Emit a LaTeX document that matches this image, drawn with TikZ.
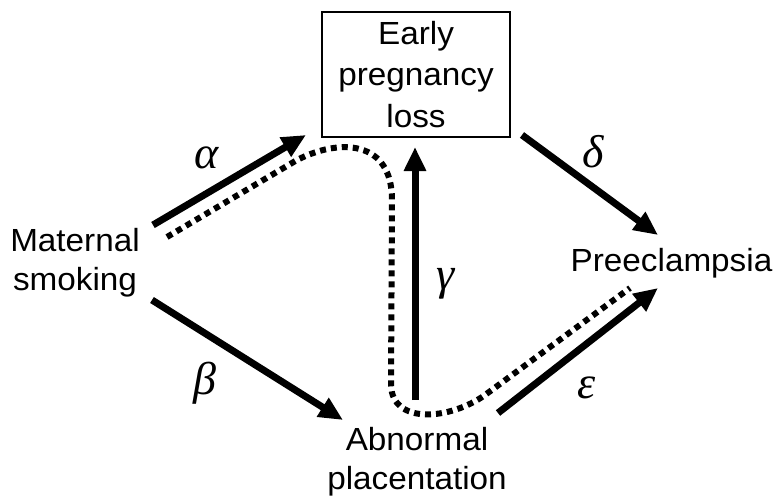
\documentclass[tikz,border=0pt]{standalone}
\usepackage{fontspec}
\setmainfont{Liberation Sans}[FakeStretch=1.04]
\newfontfamily\grk{Liberation Serif}
\usetikzlibrary{arrows.meta}
\tikzset{
  lbl/.style={align=center, inner sep=0pt, font=\fontsize{32}{39}\selectfont},
  boxnode/.style={draw, line width=1.5pt, inner sep=0pt, minimum width=188pt, minimum height=125pt, align=center, font=\fontsize{32}{41.5}\selectfont},
  greek/.style={inner sep=0pt, font=\fontsize{46}{50}\selectfont\grk\itshape},
  thick arrow/.style={line width=7pt, -{Triangle[length=24pt,width=21pt]}},
  dotpath/.style={line width=6pt, dash pattern=on 6pt off 5pt}
}
\begin{document}
\begin{tikzpicture}[x=1pt,y=-1pt]
\useasboundingbox (0,0) rectangle (781,498);
% nodes
\node[boxnode] (epl) at (416,74.5) {Early\\pregnancy\\loss};
\node[lbl] (ms) at (75,263) {Maternal\\smoking};
\node[lbl, anchor=base] (pe) at (671.5,271) {Preeclampsia};
\node[lbl] (ap) at (417,461.5) {Abnormal\\placentation};
% arrow end points
\coordinate (a0) at (153,225); \coordinate (a1) at (306,135);
\coordinate (b0) at (152,300); \coordinate (b1) at (343,420);
\coordinate (g0) at (415,400); \coordinate (g1) at (415,147);
\coordinate (d0) at (522,135); \coordinate (d1) at (658,235);
\coordinate (e0) at (498,413); \coordinate (e1) at (658,288);
\draw[thick arrow] (a0) -- (a1);
\draw[thick arrow] (b0) -- (b1);
\draw[thick arrow] (g0) -- (g1);
\draw[thick arrow] (d0) -- (d1);
\draw[thick arrow] (e0) -- (e1);
% dotted path
\coordinate (p0) at (167,237);
\coordinate (p5) at (630,288);
\draw[dotpath] (p0) -- (297,160) .. controls (340,138) and (392,140) .. (392,200)
  -- (391,385) .. controls (392,425) and (450,420) .. (485,395) -- (p5);
% greek labels
\node[greek] (la) at (207,158) {α};
\node[greek] (lb) at (205,383) {β};
\node[greek] (lg) at (446,284) {γ};
\node[greek] (ld) at (593,152) {δ};
\node[greek] (le) at (587,388) {ε};
\end{tikzpicture}
\end{document}
